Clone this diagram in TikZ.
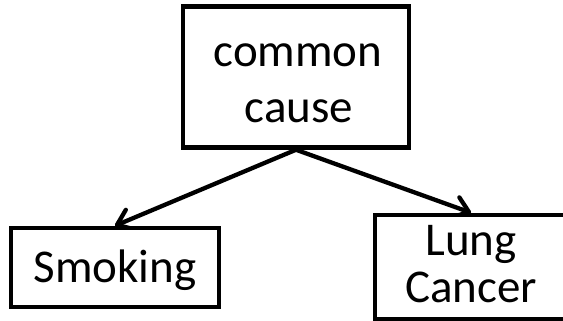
\documentclass[tikz,border=0pt]{standalone}
\usepackage{fontspec}
\setmainfont{Carlito}
\usetikzlibrary{arrows.meta,backgrounds}
\begin{document}
\begin{tikzpicture}[x=1pt,y=-1pt,
  box/.style={draw=black, line width=4.5pt, fill=white, rectangle, inner sep=0pt},
  lbl/.style={font=\fontsize{47}{56}\selectfont, inner sep=0pt, anchor=base},
  arr/.style={line width=4.3pt, line cap=round,
    -{Straight Barb[length=14pt,width=21pt,line cap=round,line join=round]}}]
\useasboundingbox (0,0) rectangle (563,321);
\clip (0,0) rectangle (563,321);

% boxes
\node[box, minimum width=226pt, minimum height=141pt] (cc) at (296,77) {};
\node[box, minimum width=208pt, minimum height=79pt] (smk) at (115,267.5) {};
\node[box, minimum width=190pt, minimum height=104pt] (lung) at (470,267) {};

% labels
\node[lbl] (cc1) at (298,67) {common};
\node[lbl] (cc2) at (299,122) {cause};
\node[lbl] (smkt) at (115,282) {Smoking};
\node[lbl] (lung1) at (471,255) {Lung};
\node[lbl] (lung2) at (471,302) {Cancer};

% causal arrows, kept behind the boxes
\begin{scope}[on background layer]
  \draw[arr] (cc.south) -- (smk.north -| smkt);
  \draw[arr] (cc.south) -- (lung.north -| lung1);
\end{scope}
\end{tikzpicture}
\end{document}
